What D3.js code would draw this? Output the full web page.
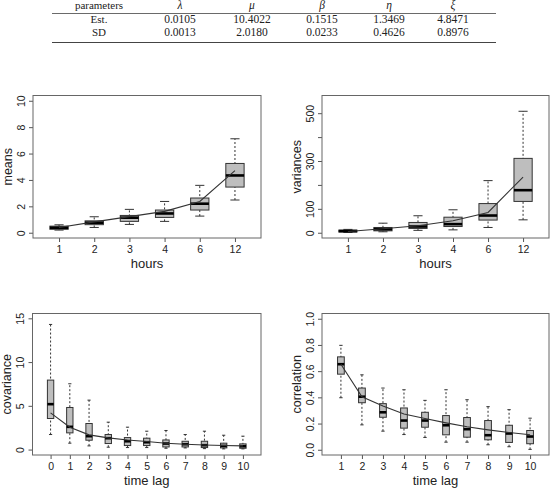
<!DOCTYPE html>
<html>
<head>
<meta charset="utf-8">
<script src="https://cdn.jsdelivr.net/npm/d3@7"></script>
<style>
  body { margin: 0; background: #fff; }
  svg { display: block; }
  .tick text { font-family: "Liberation Sans", Arial, sans-serif; }
</style>
</head>
<body>
<svg id="chart" width="553" height="493"></svg>
<script>
// table of parameter estimates
var paramNames = ["\u03bb", "\u03bc", "\u03b2", "\u03b7", "\u03be"];
var estRow = ["0.0105", "10.4022", "0.1515", "1.3469", "4.8471"];
var sdRow = ["0.0013", "2.0180", "0.0233", "0.4626", "0.8976"];

// box stats: [lower whisker, q1, median, q3, upper whisker]
var hourCats = ["1", "2", "3", "4", "6", "12"];
var meansBox = [
  [0.2, 0.26, 0.38, 0.5, 0.6],
  [0.4, 0.61, 0.76, 0.9, 1.21],
  [0.63, 0.86, 1.14, 1.31, 1.77],
  [0.86, 1.16, 1.46, 1.72, 2.37],
  [1.26, 1.72, 2.2, 2.63, 3.59],
  [2.48, 3.46, 4.34, 5.25, 7.12]
];
var meansLine = [0.4, 0.82, 1.22, 1.62, 2.37, 4.7];

var varBox = [
  [1, 3, 7, 11, 14],
  [4, 8, 15, 22, 40],
  [10, 18, 26, 43, 71],
  [12, 26, 36, 65, 96],
  [22, 53, 72, 122, 218],
  [54, 131, 178, 311, 508]
];
var varLine = [5, 17, 29, 50, 85, 233];

var covCats = ["0", "1", "2", "3", "4", "5", "6", "7", "8", "9", "10"];
var covBox = [
  [1.72, 3.55, 5.19, 7.94, 14.3],
  [0.73, 1.91, 2.6, 4.81, 7.52],
  [0.42, 1.07, 1.53, 2.98, 5.65],
  [0.27, 0.69, 1.3, 1.72, 3.13],
  [0.23, 0.46, 0.95, 1.37, 2.56],
  [0.23, 0.46, 0.84, 1.3, 2.1],
  [0.15, 0.3, 0.69, 1.1, 2.18],
  [0.19, 0.3, 0.61, 0.95, 1.72],
  [0.11, 0.23, 0.5, 0.95, 2.1],
  [0.08, 0.19, 0.42, 0.73, 1.64],
  [0.08, 0.15, 0.38, 0.65, 1.53]
];
var covLine = [4.2, 2.56, 1.68, 1.34, 1.1, 0.92, 0.73, 0.61, 0.53, 0.46, 0.42];

var corCats = ["1", "2", "3", "4", "5", "6", "7", "8", "9", "10"];
var corBox = [
  [0.397, 0.577, 0.653, 0.709, 0.797],
  [0.19, 0.359, 0.405, 0.471, 0.572],
  [0.142, 0.248, 0.286, 0.352, 0.471],
  [0.116, 0.165, 0.223, 0.319, 0.458],
  [0.094, 0.172, 0.223, 0.286, 0.377],
  [0.058, 0.114, 0.187, 0.261, 0.458],
  [0.058, 0.096, 0.157, 0.246, 0.382],
  [0.038, 0.076, 0.111, 0.223, 0.329],
  [0.023, 0.056, 0.124, 0.187, 0.306],
  [0.003, 0.046, 0.101, 0.147, 0.241]
];
var corLine = [0.653, 0.405, 0.334, 0.273, 0.238, 0.205, 0.175, 0.152, 0.132, 0.114];

var svg = d3.select("#chart");
var ink = "#222";

// ---- table ----
var colX = [99, 180, 252, 322, 389, 453];
var tbl = svg.append("g")
  .style("font-family", "'Liberation Serif', 'DejaVu Serif', serif")
  .attr("fill", ink)
  .attr("text-anchor", "middle");

tbl.append("text").attr("x", colX[0]).attr("y", 9)
  .style("font-size", "11px").text("parameters");
paramNames.forEach(function(p, i) {
  tbl.append("text").attr("x", colX[i + 1]).attr("y", 9)
    .style("font-size", "11.5px").style("font-style", "italic").text(p);
});
tbl.append("text").attr("x", colX[0]).attr("y", 23).style("font-size", "11px").text("Est.");
tbl.append("text").attr("x", colX[0]).attr("y", 36).style("font-size", "11px").text("SD");
estRow.forEach(function(v, i) {
  tbl.append("text").attr("x", colX[i + 1]).attr("y", 23).style("font-size", "11.5px").text(v);
});
sdRow.forEach(function(v, i) {
  tbl.append("text").attr("x", colX[i + 1]).attr("y", 36).style("font-size", "11.5px").text(v);
});
tbl.append("line").attr("x1", 52).attr("x2", 496).attr("y1", 13.5).attr("y2", 13.5)
  .attr("stroke", "#444").attr("stroke-width", 0.8);
tbl.append("line").attr("x1", 52).attr("x2", 496).attr("y1", 42.5).attr("y2", 42.5)
  .attr("stroke", "#444").attr("stroke-width", 1.2);

// ---- boxplot panels ----
function drawPanel(cfg) {
  var n = cfg.cats.length;
  var pad = 0.04 * n;
  var x = d3.scaleLinear()
    .domain([0.5 - pad, n + 0.5 + pad])
    .range([cfg.left, cfg.right]);
  var y = d3.scaleLinear()
    .domain(cfg.yDomain)
    .range([cfg.bottom, cfg.top]);

  var g = svg.append("g");
  var bw = (x(1) - x(0)) * cfg.boxwex;

  // x axis
  var xa = g.append("g")
    .attr("transform", "translate(0," + cfg.bottom + ")")
    .call(d3.axisBottom(x)
      .tickValues(d3.range(1, n + 1))
      .tickFormat(function(d) { return cfg.cats[d - 1]; })
      .tickSize(4).tickPadding(2));
  xa.select(".domain").remove();
  xa.selectAll(".tick line").attr("stroke", "#555");
  xa.selectAll(".tick text")
    .attr("fill", ink).style("font-size", "10.5px")
    .attr("y", 14.5).attr("dy", 0);

  // y axis
  var ya = g.append("g")
    .attr("transform", "translate(" + cfg.left + ",0)")
    .call(d3.axisLeft(y)
      .tickValues(cfg.yTicks)
      .tickFormat(function(d) { return cfg.yLabels.indexOf(d) >= 0 ? cfg.fmt(d) : ""; })
      .tickSize(4));
  ya.select(".domain").remove();
  ya.selectAll(".tick line").attr("stroke", "#555");
  ya.selectAll(".tick text")
    .attr("fill", ink).style("font-size", "10.5px")
    .attr("x", 0).attr("dy", 0)
    .attr("text-anchor", "middle")
    .attr("transform", "translate(-12,0) rotate(-90) translate(0,3.8)");

  // whiskers
  var items = g.selectAll(".bx").data(cfg.stats).enter().append("g").attr("class", "bx");
  items.append("line")
    .attr("x1", function(d, i) { return x(i + 1); })
    .attr("x2", function(d, i) { return x(i + 1); })
    .attr("y1", function(d) { return y(d[0]); })
    .attr("y2", function(d) { return y(d[4]); })
    .attr("stroke", "#333").attr("stroke-dasharray", "2,2");
  [0, 4].forEach(function(k) {
    items.append("line")
      .attr("x1", function(d, i) { return x(i + 1) - bw / 4; })
      .attr("x2", function(d, i) { return x(i + 1) + bw / 4; })
      .attr("y1", function(d) { return y(d[k]); })
      .attr("y2", function(d) { return y(d[k]); })
      .attr("stroke", "#333");
  });
  items.append("rect")
    .attr("x", function(d, i) { return x(i + 1) - bw / 2; })
    .attr("width", bw)
    .attr("y", function(d) { return y(d[3]); })
    .attr("height", function(d) { return y(d[1]) - y(d[3]); })
    .attr("fill", "#bebebe").attr("stroke", "#333");
  items.append("line")
    .attr("x1", function(d, i) { return x(i + 1) - bw / 2; })
    .attr("x2", function(d, i) { return x(i + 1) + bw / 2; })
    .attr("y1", function(d) { return y(d[2]); })
    .attr("y2", function(d) { return y(d[2]); })
    .attr("stroke", "#000").attr("stroke-width", 2.6);

  // fitted curve
  g.append("path")
    .datum(cfg.line)
    .attr("d", d3.line()
      .x(function(d, i) { return x(i + 1); })
      .y(function(d) { return y(d); }))
    .attr("fill", "none").attr("stroke", "#333").attr("stroke-width", 1.1);

  // frame
  g.append("rect")
    .attr("x", cfg.left).attr("y", cfg.top)
    .attr("width", cfg.right - cfg.left).attr("height", cfg.bottom - cfg.top)
    .attr("fill", "none").attr("stroke", "#666");

  // titles
  g.append("text")
    .attr("x", (cfg.left + cfg.right) / 2).attr("y", cfg.bottom + 29.5)
    .attr("text-anchor", "middle").attr("fill", ink)
    .style("font-family", "'Liberation Sans', Arial, sans-serif").style("font-size", "13px")
    .text(cfg.xlab);
  g.append("text")
    .attr("transform", "translate(" + (cfg.left - 21.5) + "," + ((cfg.top + cfg.bottom) / 2) + ") rotate(-90)")
    .attr("text-anchor", "middle").attr("fill", ink)
    .style("font-family", "'Liberation Sans', Arial, sans-serif").style("font-size", "12.5px")
    .text(cfg.ylab);
}

var plain = function(d) { return String(d); };

drawPanel({
  left: 33, right: 261, top: 95.5, bottom: 238,
  cats: hourCats, stats: meansBox, line: meansLine, boxwex: 0.52,
  yDomain: [-0.4, 10.4], yTicks: [0, 2, 4, 6, 8, 10], yLabels: [0, 2, 4, 6, 8, 10],
  fmt: plain, xlab: "hours", ylab: "means"
});
drawPanel({
  left: 322, right: 549, top: 95.5, bottom: 238,
  cats: hourCats, stats: varBox, line: varLine, boxwex: 0.52,
  yDomain: [-22, 574], yTicks: [0, 100, 200, 300, 400, 500], yLabels: [0, 100, 300, 500],
  fmt: plain, xlab: "hours", ylab: "variances"
});
drawPanel({
  left: 32.5, right: 261, top: 313.5, bottom: 455,
  cats: covCats, stats: covBox, line: covLine, boxwex: 0.33,
  yDomain: [-0.62, 15.55], yTicks: [0, 5, 10, 15], yLabels: [0, 5, 10, 15],
  fmt: plain, xlab: "time lag", ylab: "covariance"
});
drawPanel({
  left: 322, right: 549, top: 313.5, bottom: 455,
  cats: corCats, stats: corBox, line: corLine, boxwex: 0.32,
  yDomain: [-0.04, 1.04], yTicks: [0, 0.2, 0.4, 0.6, 0.8, 1.0], yLabels: [0, 0.2, 0.4, 0.6, 0.8, 1.0],
  fmt: d3.format(".1f"), xlab: "time lag", ylab: "correlation"
});
</script>
</body>
</html>
